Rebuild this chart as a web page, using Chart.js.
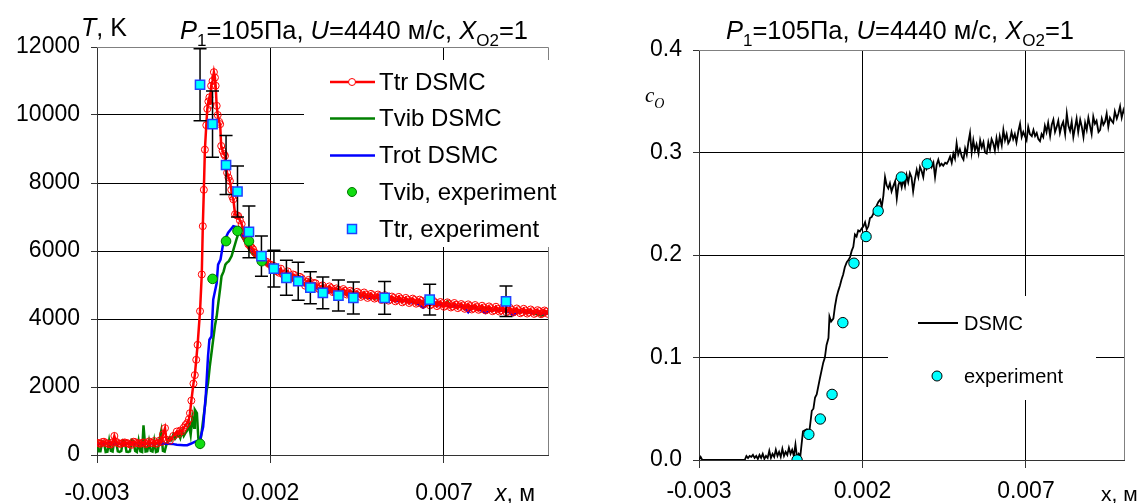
<!DOCTYPE html>
<html><head><meta charset="utf-8">
<script src="https://cdn.jsdelivr.net/npm/chart.js@4.4.1/dist/chart.umd.min.js"></script>
<style>
html,body{margin:0;padding:0;background:#fff;}
#wrap{position:relative;width:1137px;height:503px;overflow:hidden;background:#fff;}
#c1{position:absolute;left:0;top:0;}
#c2{position:absolute;left:575px;top:0;}
</style></head><body>
<div id="wrap"><canvas id="c1" width="575" height="503"></canvas><canvas id="c2" width="562" height="503"></canvas></div>
<script>
// ---------- DATA ----------
const xTickVals = [-0.003, 0.002, 0.007];
const tTickVals = [0, 2000, 4000, 6000, 8000, 10000, 12000];
const coTickVals = [0, 0.1, 0.2, 0.3, 0.4];
const legendLeft = ['Ttr DSMC', 'Tvib DSMC', 'Trot DSMC', 'Tvib, experiment', 'Ttr, experiment'];
const legendRight = ['DSMC', 'experiment'];

const ttrDsmc = [[-0.0030,360],[-0.0029,330],[-0.0028,390],[-0.0027,340],[-0.0026,310],[-0.0025,560],[-0.0024,350],[-0.0023,330],[-0.0022,370],[-0.0021,340],[-0.0020,300],[-0.0019,380],[-0.0018,340],[-0.0017,360],[-0.0016,320],[-0.0015,400],[-0.0014,350],[-0.0013,330],[-0.0012,420],[-0.0011,600],[-0.00104,790],[-0.0010,450],[-0.0009,420],[-0.0008,560],[-0.0007,690],[-0.00065,620],[-0.0006,720],[-0.00055,700],[-0.0005,800],[-0.00045,880],[-0.0004,940],[-0.00035,1050],[-0.00032,1230],[-0.00028,1600],[-0.00022,2100],[-0.00018,2350],[-0.00014,2800],[-0.0001,3240],[-0.00003,4230],[0.00002,5310],[0.00005,6730],[0.00008,7800],[0.00011,8980],[0.00015,9700],[0.00018,10180],[0.00021,10400],[0.00024,10520],[0.00027,10300],[0.00029,10860],[0.00033,11000],[0.00037,11260],[0.0004,11100],[0.00042,10860],[0.00045,10270],[0.00048,10000],[0.00052,9800],[0.00055,9730],[0.00058,9090],[0.00062,8950],[0.00066,8850],[0.00069,8800],[0.00072,8500],[0.00075,8300],[0.00079,8160],[0.00083,8060],[0.00087,7800],[0.0009,7600],[0.00093,7520],[0.00098,7080],[0.00103,7050],[0.00107,7030],[0.00112,6900],[0.00117,6790],[0.00122,6600],[0.00127,6450],[0.00131,6340],[0.00136,6200],[0.00141,6150],[0.00146,6100],[0.0015,6050],[0.00155,5950],[0.0016,5900],[0.00165,5880],[0.0017,5850],[0.00175,5800],[0.0018,5760],[0.00185,5700],[0.0019,5680],[0.00195,5620],[0.002,5600],
[0.0021,5560],[0.0022,5400],[0.0023,5480],[0.0024,5250],[0.0025,5400],[0.0026,5200],[0.0027,5290],[0.0028,5120],[0.0029,5200],[0.0030,4980],[0.0031,5150],[0.0032,4930],[0.0033,5050],[0.0034,4880],[0.0035,4990],[0.0036,4820],[0.0037,4960],[0.0038,4790],[0.0039,4900],[0.0040,4740],[0.0041,4880],[0.0042,4720],[0.0043,4830],[0.0044,4680],[0.0045,4800],[0.0046,4650],[0.0047,4780],[0.0048,4620],[0.0049,4740],[0.0050,4600],[0.0051,4720],[0.0052,4560],[0.0053,4700],[0.0054,4540],[0.0055,4660],[0.0056,4520],[0.0057,4650],[0.0058,4490],[0.0059,4620],[0.0060,4470],[0.0061,4600],[0.0062,4450],[0.0063,4570],[0.0064,4420],[0.0065,4560],[0.0066,4400],[0.0067,4530],[0.0068,4380],[0.0069,4500],[0.0070,4360],[0.0071,4490],[0.0072,4340],[0.0073,4470],[0.0074,4320],[0.0075,4440],[0.0076,4300],[0.0077,4430],[0.0078,4280],[0.0079,4410],[0.0080,4270],[0.0081,4390],[0.0082,4250],[0.0083,4370],[0.0084,4230],[0.0085,4360],[0.0086,4220],[0.0087,4340],[0.0088,4200],[0.0089,4330],[0.0090,4190],[0.0091,4310],[0.0092,4170],[0.0093,4300],[0.0094,4160],[0.0095,4280],[0.0096,4150],[0.0097,4260],[0.0098,4140],[0.0099,4250],[0.0100,4150]];

// intermediate DSMC cells of Ttr (read between the ones above)
const ttrDsmcMid = [[-0.00295,340],[-0.00285,380],[-0.00275,350],[-0.00265,320],[-0.00255,370],[-0.00245,390],[-0.00235,330],[-0.00225,360],[-0.00215,350],[-0.00205,310],[-0.00195,390],[-0.00185,350],[-0.00175,330],[-0.00165,370],[-0.00155,340],[-0.00145,360],[-0.00135,410],[-0.00125,350],[-0.00115,380],
[0.00205,5490],[0.00215,5430],[0.00225,5360],[0.00235,5330],[0.00245,5340],[0.00255,5210],[0.00265,5310],[0.00275,5130],[0.00285,5240],[0.00295,5080],[0.00305,5090],[0.00315,4980],[0.00325,5060],[0.00335,4920],[0.00345,4960],[0.00355,4900],[0.00365,4850],[0.00375,4910],[0.00385,4800],[0.00395,4860],[0.00405,4770],[0.00415,4830],[0.00425,4750],[0.00435,4790],[0.00445,4710],[0.00455,4760],[0.00465,4690],[0.00475,4720],[0.00485,4660],[0.00495,4700],[0.00505,4630],[0.00515,4680],[0.00525,4600],[0.00535,4650],[0.00545,4570],[0.00555,4620],[0.00565,4560],[0.00575,4600],[0.00585,4530],[0.00595,4570],[0.00605,4510],[0.00615,4560],[0.00625,4480],[0.00635,4530],[0.00645,4460],[0.00655,4510],[0.00665,4440],[0.00675,4480],[0.00685,4420],[0.00695,4460],[0.00705,4390],[0.00715,4440],[0.00725,4370],[0.00735,4420],[0.00745,4360],[0.00755,4400],[0.00765,4330],[0.00775,4380],[0.00785,4310],[0.00795,4350],[0.00805,4300],[0.00815,4340],[0.00825,4280],[0.00835,4320],[0.00845,4260],[0.00855,4300],[0.00865,4250],[0.00875,4290],[0.00885,4240],[0.00895,4270],[0.00905,4220],[0.00915,4260],[0.00925,4200],[0.00935,4250],[0.00945,4190],[0.00955,4230],[0.00965,4180],[0.00975,4230],[0.00985,4170],[0.00995,4220]];

const tvibDsmc = [[-0.0030,450],[-0.00295,110],[-0.0029,110],[-0.00285,400],[-0.0028,380],[-0.00275,90],[-0.0027,100],[-0.00265,420],[-0.0026,120],[-0.00255,100],[-0.0025,450],[-0.00245,400],[-0.0024,110],[-0.00235,90],[-0.0023,120],[-0.00225,430],[-0.0022,400],[-0.00215,100],[-0.0021,90],[-0.00205,110],[-0.002,440],[-0.00195,410],[-0.0019,120],[-0.00185,90],[-0.0018,410],[-0.00175,110],[-0.0017,90],[-0.00166,870],[-0.0016,100],[-0.00155,110],[-0.0015,400],[-0.00145,120],[-0.0014,100],[-0.00135,420],[-0.0013,90],[-0.00125,110],[-0.0012,450],[-0.00115,700],[-0.0011,120],[-0.00105,100],[-0.001,300],[-0.00095,480],[-0.0009,520],[-0.00085,450],[-0.0008,600],[-0.00075,480],[-0.0007,550],[-0.00065,620],[-0.0006,500],[-0.00055,700],[-0.0005,560],[-0.00045,650],[-0.0004,720],[-0.00035,900],[-0.0003,600],[-0.00025,1100],[-0.0002,800],[-0.00018,1330],[-0.00012,1230],[-0.00008,500],[-0.00003,330],[0.00002,700],[0.00006,1030],[0.00012,1500],[0.00016,1900],[0.0002,2110],[0.00025,2600],[0.0003,3000],[0.00035,3400],[0.0004,3800],[0.00045,4080],[0.0005,4500],[0.00055,4900],[0.00059,5260],[0.00065,5400],[0.0007,5600],[0.00074,5650],[0.0008,5700],[0.00088,5850],[0.00095,6100],[0.00102,6340],[0.0011,6590],[0.00116,6450],[0.00122,6350],[0.00131,6240],[0.0014,6000],[0.0015,5900],[0.0016,5800],[0.0017,5750],[0.0018,5650],[0.0019,5600],[0.002,5500],
[0.0022,5380],[0.0024,5300],[0.0026,5150],[0.0028,5120],[0.003,5000],[0.0032,4960],[0.0034,4900],[0.0036,4850],[0.0038,4800],[0.004,4790],[0.0042,4720],[0.0044,4750],[0.0046,4660],[0.0048,4690],[0.005,4600],[0.0052,4650],[0.0054,4560],[0.0056,4580],[0.0058,4530],[0.006,4550],[0.0062,4470],[0.0064,4500],[0.0066,4430],[0.0068,4480],[0.007,4400],[0.0071,4520],[0.0072,4380],[0.0074,4370],[0.0076,4340],[0.0078,4380],[0.008,4300],[0.0082,4330],[0.0084,4260],[0.0086,4300],[0.0088,4230],[0.009,4260],[0.0092,4200],[0.0094,4240],[0.0096,4170],[0.0098,4100],[0.01,4180]];

const trotDsmc = [[-0.0030,340],[-0.0028,330],[-0.0026,345],[-0.0024,330],[-0.0022,340],[-0.002,335],[-0.0018,345],[-0.0016,330],[-0.0014,340],[-0.0012,335],[-0.001,330],[-0.0008,320],[-0.0007,300],[-0.0006,295],[-0.0005,290],[-0.0004,290],[-0.0003,330],[-0.0002,380],[-0.0001,420],[-0.00003,440],[0.00006,830],[0.00014,1820],[0.0002,2900],[0.00024,3390],[0.0003,3490],[0.00035,4570],[0.00045,5060],[0.00049,5600],[0.00056,5750],[0.00064,6240],[0.00078,6540],[0.00093,6730],[0.00107,6690],[0.00121,6440],[0.0014,6140],
[0.0016,5880],[0.0018,5720],[0.002,5560],[0.0022,5420],[0.0024,5290],[0.0026,5180],[0.0028,5100],[0.003,5010],[0.0032,4930],[0.0034,4880],[0.0036,4800],[0.0038,4790],[0.004,4730],[0.0042,4740],[0.0044,4680],[0.0046,4690],[0.0048,4620],[0.005,4640],[0.0052,4580],[0.0054,4590],[0.0056,4520],[0.0058,4550],[0.006,4490],[0.0062,4480],[0.0064,4330],[0.0066,4460],[0.0068,4400],[0.007,4420],[0.0072,4370],[0.0074,4380],[0.0076,4330],[0.0077,4200],[0.0078,4340],[0.008,4290],[0.0082,4180],[0.0084,4270],[0.0086,4240],[0.0088,4250],[0.009,4120],[0.0092,4230],[0.0094,4180],[0.0096,4200],[0.0098,4150],[0.01,4170]];

const tvibExp = [[-0.00003,330],[0.00033,5180],[0.00072,6290],[0.00105,6590],[0.00138,6290],[0.00175,5700]];

const ttrExpX = [-0.00003, 0.00033, 0.00072, 0.00105, 0.00138, 0.00174, 0.0021, 0.00246, 0.0028, 0.00315, 0.00351, 0.00396, 0.00439, 0.00529, 0.00659, 0.00879];
const ttrExpY = [10890, 9730, 8530, 7750, 6560, 5850, 5480, 5210, 5110, 4920, 4770, 4690, 4620, 4620, 4570, 4520];
const ttrExpErr = [1060, 975, 870, 750, 760, 590, 540, 515, 560, 470, 465, 455, 470, 480, 450, 450];

const coDsmc = [[-0.0030,0],[-0.00295,0.003],[-0.0029,0],[-0.0016,0],[-0.00155,0.004],[-0.0015,0.002],[-0.00145,0.004],[-0.0014,0.003],[-0.00135,0.005],[-0.0013,0.002],[-0.00125,0.004],[-0.0012,0.001],[-0.00115,0.005],[-0.0011,0.002],[-0.00105,0.006],[-0.001,0.001],[-0.00095,0.004],[-0.0009,0.002],[-0.00085,0.009],[-0.0008,0.002],[-0.00075,0.006],[-0.0007,0.003],[-0.00065,0.010],[-0.0006,0.004],[-0.00055,0.008],[-0.0005,0.003],[-0.00045,0.011],[-0.0004,0.004],[-0.00035,0.008],[-0.0003,0.005],[-0.00025,0.012],[-0.0002,0.006],[-0.00015,0.010],[-0.0001,0.004],[-0.00005,0.015],[0.0,0.002],[0.00005,0.006],[0.0001,0.004],[0.00018,0.028],[0.0003,0.030],[0.00038,0.029],[0.00045,0.048],[0.0005,0.050],[0.00055,0.061],[0.0006,0.064],[0.0007,0.080],[0.0008,0.095],[0.00085,0.100],[0.0009,0.112],[0.00096,0.119],[0.00099,0.140],[0.00104,0.135],[0.00111,0.138],[0.00116,0.150],[0.00121,0.159],[0.00126,0.165],[0.00131,0.170],[0.00136,0.176],[0.00141,0.181],[0.00146,0.188],[0.00152,0.193],[0.00157,0.195],[0.00162,0.198],[0.00167,0.204],[0.00172,0.208],[0.00177,0.220],[0.00182,0.218],[0.00187,0.224],[0.00192,0.223],[0.00198,0.226],[0.00203,0.228],[0.00208,0.232],[0.00213,0.225],[0.00218,0.228],[0.00223,0.236],[0.00228,0.237],[0.00233,0.240],[0.00238,0.245],[0.00243,0.248],[0.00249,0.252],[0.00254,0.254],[0.00259,0.247],[0.00264,0.258],[0.00269,0.276],[0.00274,0.268],[0.00279,0.265],[0.00284,0.270],[0.00289,0.262],[0.00294,0.267],[0.003,0.272],[0.00305,0.255],[0.0031,0.268],[0.00315,0.273],[0.0032,0.266],[0.00325,0.274],[0.0033,0.267],[0.00335,0.278],[0.0034,0.271],[0.00345,0.280],[0.0035,0.276],[0.00355,0.262],[0.0036,0.273],[0.00366,0.283],[0.00371,0.276],[0.00376,0.286],[0.00381,0.282],[0.00386,0.276],[0.00391,0.288],[0.00396,0.284],[0.00402,0.290],[0.00407,0.293],[0.00412,0.286],[0.00417,0.290],[0.00422,0.276],[0.00427,0.288],[0.00432,0.293],[0.00437,0.287],[0.00442,0.289],[0.00447,0.287],[0.00453,0.290],[0.00458,0.289],[0.00463,0.292],[0.00468,0.296],[0.00473,0.290],[0.00478,0.299],[0.00483,0.294],[0.00488,0.309],[0.00493,0.298],[0.00498,0.303],[0.00504,0.296],[0.00509,0.293],[0.00514,0.304],[0.00519,0.298],[0.00524,0.310],[0.00529,0.319],[0.00534,0.300],[0.00539,0.312],[0.00544,0.302],[0.00549,0.308],[0.00555,0.299],[0.0056,0.312],[0.00565,0.305],[0.0057,0.310],[0.00575,0.300],[0.0058,0.299],[0.00585,0.310],[0.0059,0.303],[0.00595,0.313],[0.006,0.309],[0.00605,0.302],[0.0061,0.314],[0.00615,0.305],[0.0062,0.316],[0.00626,0.307],[0.00631,0.322],[0.00636,0.312],[0.00641,0.318],[0.00646,0.309],[0.00651,0.312],[0.00656,0.320],[0.00661,0.313],[0.00666,0.318],[0.00671,0.310],[0.00677,0.321],[0.00682,0.328],[0.00687,0.315],[0.00692,0.320],[0.00697,0.316],[0.00702,0.312],[0.00707,0.325],[0.00712,0.318],[0.00718,0.316],[0.00723,0.322],[0.00728,0.316],[0.00733,0.319],[0.00738,0.313],[0.00743,0.311],[0.00748,0.318],[0.00753,0.315],[0.00758,0.326],[0.00763,0.320],[0.00768,0.329],[0.00774,0.316],[0.00779,0.327],[0.00784,0.332],[0.00789,0.320],[0.00794,0.325],[0.00799,0.331],[0.00804,0.319],[0.00809,0.326],[0.00814,0.330],[0.0082,0.318],[0.00825,0.338],[0.0083,0.326],[0.00835,0.321],[0.0084,0.330],[0.00845,0.315],[0.0085,0.324],[0.00855,0.333],[0.0086,0.320],[0.00866,0.332],[0.00871,0.325],[0.00876,0.315],[0.00881,0.329],[0.00886,0.322],[0.00891,0.334],[0.00896,0.326],[0.00901,0.318],[0.00906,0.335],[0.00911,0.328],[0.00916,0.331],[0.00922,0.320],[0.00927,0.322],[0.00932,0.333],[0.00937,0.327],[0.00942,0.330],[0.00947,0.338],[0.00952,0.325],[0.00957,0.334],[0.00962,0.331],[0.00967,0.329],[0.00972,0.340],[0.00978,0.333],[0.00983,0.338],[0.00988,0.345],[0.00993,0.334],[0.00998,0.341],[0.0100,0.338],[0.01005,0.348]];

const coExp = [[0.0,0.0],[0.00036,0.025],[0.00071,0.040],[0.00107,0.064],[0.0014,0.134],[0.00174,0.192],[0.00211,0.218],[0.00248,0.243],[0.00319,0.276],[0.00398,0.289]];

// ---------- HELPERS ----------
const FONT = '"Liberation Sans", Arial, sans-serif';
const SERIF = '"Liberation Serif", "Times New Roman", serif';
Chart.defaults.font.family = FONT;
Chart.defaults.color = '#000';
const pts = a => a.map(p => ({x: p[0], y: p[1]}));
const ttrAll = ttrDsmc.concat(ttrDsmcMid).sort((a, b) => a[0] - b[0]);

function richText(ctx, segs, x, y, size, family) {
  let cx = x;
  ctx.textAlign = 'left'; ctx.textBaseline = 'alphabetic'; ctx.fillStyle = '#000';
  for (const s of segs) {
    const sz = s.sub ? Math.round(size * 0.68) : size;
    ctx.font = (s.it ? 'italic ' : '') + sz + 'px ' + (family || FONT);
    ctx.fillText(s.t, cx, y + (s.sub ? size * 0.28 : 0));
    cx += ctx.measureText(s.t).width;
  }
}
const titleSegs = [{t:'P',it:1},{t:'1',sub:1},{t:'=105Па, '},{t:'U',it:1},{t:'=4440 м/с, '},{t:'X',it:1},{t:'O2',sub:1},{t:'=1'}];

function frameLines(chart) {
  const {ctx, chartArea: a} = chart;
  ctx.save();
  ctx.strokeStyle = '#808080'; ctx.lineWidth = 1;
  const t = Math.round(a.top) + 0.5, r = Math.round(a.right) + 0.5;
  ctx.beginPath(); ctx.moveTo(a.left, t); ctx.lineTo(r, t); ctx.lineTo(r, a.bottom); ctx.stroke();
  ctx.restore();
}

function makeScales(box, W, H, yMin, yMax, yTicks, yFmt, xPad) {
  return {
    x: {
      type: 'linear', min: -0.003, max: 0.010,
      afterFit(s) { s.height = H - box.bottom; },
      afterBuildTicks(s) { s.ticks = xTickVals.map(v => ({value: v})); },
      ticks: { callback: v => v.toFixed(3), font: {size: 23}, padding: xPad, maxRotation: 0, autoSkip: false, color: '#000' },
      grid: { color: c => (c.tick && Math.abs(c.tick.value + 0.003) < 1e-9) ? 'rgba(0,0,0,0)' : '#000', tickColor: '#333', lineWidth: 1, tickLength: 8 },
      border: { color: '#333', width: 1 }
    },
    y: {
      min: yMin, max: yMax,
      afterFit(s) { s.width = box.left; },
      afterBuildTicks(s) { s.ticks = yTicks.map(v => ({value: v})); },
      ticks: { callback: yFmt, font: {size: 23}, padding: 11, color: '#000' },
      grid: { color: c => (c.tick && c.tick.value === yMax) ? '#808080' : (c.tick && c.tick.value === yMin ? 'rgba(0,0,0,0)' : '#000'), tickColor: '#333', lineWidth: 1, tickLength: 6 },
      border: { color: '#333', width: 1 }
    }
  };
}

// ---------- LEFT CHART ----------
const W1 = 575, H1 = 503;
const box1 = {left: 97, right: 548, top: 47, bottom: 455};

const leftPlugin = {
  id: 'leftDecor',
  beforeDatasetsDraw(chart) { frameLines(chart); },
  beforeDatasetDraw(chart, args) {
    if (chart.data.datasets[args.index].label !== 'Tvib, experiment') return;
    const {ctx, scales: {x, y}} = chart;
    ctx.save();
    ctx.strokeStyle = '#000'; ctx.lineWidth = 1.5;
    ttrExpX.forEach((xv, i) => {
      const px = x.getPixelForValue(xv);
      const top = y.getPixelForValue(ttrExpY[i] + ttrExpErr[i]);
      const bot = y.getPixelForValue(ttrExpY[i] - ttrExpErr[i]);
      ctx.beginPath();
      ctx.moveTo(px, top); ctx.lineTo(px, bot);
      ctx.moveTo(px - 6.5, top); ctx.lineTo(px + 6.5, top);
      ctx.moveTo(px - 6.5, bot); ctx.lineTo(px + 6.5, bot);
      ctx.stroke();
    });
    ctx.restore();
  },
  afterDraw(chart) {
    const ctx = chart.ctx;
    ctx.save();
    // legend
    ctx.fillStyle = '#fff';
    ctx.fillRect(304, 60, 271, 187);
    const rows = [82, 118.5, 155.5, 192, 229];
    const lx0 = 330, lx1 = 375, mx = 352;
    ctx.lineWidth = 2.5;
    [['#ff0000'], ['#008000'], ['#0000ff']].forEach((c, i) => {
      ctx.strokeStyle = c[0];
      ctx.beginPath(); ctx.moveTo(lx0, rows[i]); ctx.lineTo(lx1, rows[i]); ctx.stroke();
    });
    ctx.lineWidth = 1; ctx.strokeStyle = '#ff0000';
    ctx.beginPath(); ctx.arc(mx, rows[0], 3.5, 0, Math.PI * 2); ctx.fillStyle = '#fff'; ctx.fill(); ctx.stroke();
    ctx.fillStyle = '#11dd11'; ctx.strokeStyle = '#007700';
    ctx.beginPath(); ctx.arc(mx, rows[3], 4.5, 0, Math.PI * 2); ctx.fill(); ctx.stroke();
    ctx.fillStyle = '#00ffff'; ctx.strokeStyle = '#2040ff'; ctx.lineWidth = 1.5;
    ctx.fillRect(mx - 4.5, rows[4] - 4.5, 9, 9); ctx.strokeRect(mx - 4.5, rows[4] - 4.5, 9, 9);
    ctx.fillStyle = '#000'; ctx.font = '24px ' + FONT; ctx.textAlign = 'left'; ctx.textBaseline = 'middle';
    legendLeft.forEach((t, i) => ctx.fillText(t, 379, rows[i] + 1));
    // texts
    richText(ctx, titleSegs, 180, 39, 25.5);
    richText(ctx, [{t:'T',it:1},{t:', K'}], 81, 36, 25);
    richText(ctx, [{t:'x',it:1},{t:', м'}], 495, 501, 23);
    ctx.restore();
  }
};

new Chart(document.getElementById('c1'), {
  type: 'scatter',
  data: {
    datasets: [
      { label: 'Tvib DSMC', data: pts(tvibDsmc), showLine: true, borderColor: '#008000', borderWidth: 2.5, pointRadius: 0, order: 5 },
      { label: 'Trot DSMC', data: pts(trotDsmc), showLine: true, borderColor: '#0000ff', borderWidth: 2.5, pointRadius: 0, order: 4 },
      { label: 'Ttr DSMC', data: pts(ttrAll), showLine: true, borderColor: '#ff0000', borderWidth: 2.5, pointRadius: 3.5, pointBorderWidth: 1, pointBorderColor: '#ff0000', pointBackgroundColor: 'rgba(255,255,255,0)', order: 3 },
      { label: 'Tvib, experiment', data: pts(tvibExp), pointRadius: 4.8, pointBackgroundColor: '#11dd11', pointBorderColor: '#007700', pointBorderWidth: 1, order: 2 },
      { label: 'Ttr, experiment', data: ttrExpX.map((v, i) => ({x: v, y: ttrExpY[i]})), pointStyle: 'rect', pointRadius: 6.5, pointBackgroundColor: '#00ffff', pointBorderColor: '#2040ff', pointBorderWidth: 1.5, order: 1 }
    ]
  },
  options: {
    responsive: false, animation: false, events: [],
    layout: { padding: { left: 0, top: box1.top, right: W1 - box1.right, bottom: 0 } },
    plugins: { legend: { display: false }, tooltip: { enabled: false } },
    scales: makeScales(box1, W1, H1, 0, 12000, tTickVals, v => String(v), 17)
  },
  plugins: [leftPlugin]
});

// ---------- RIGHT CHART ----------
const W2 = 562, H2 = 503;
const box2 = {left: 124, right: 549, top: 50, bottom: 460};

const rightPlugin = {
  id: 'rightDecor',
  beforeDatasetsDraw(chart) { frameLines(chart); },
  afterDraw(chart) {
    const ctx = chart.ctx;
    ctx.save();
    ctx.fillStyle = '#fff';
    ctx.fillRect(313, 296, 208, 104);
    ctx.strokeStyle = '#000'; ctx.lineWidth = 2;
    ctx.beginPath(); ctx.moveTo(343, 323); ctx.lineTo(383, 323); ctx.stroke();
    ctx.fillStyle = '#00ffff'; ctx.strokeStyle = '#000'; ctx.lineWidth = 1;
    ctx.beginPath(); ctx.arc(362, 376, 5, 0, Math.PI * 2); ctx.fill(); ctx.stroke();
    ctx.fillStyle = '#000'; ctx.font = '20px ' + FONT; ctx.textAlign = 'left'; ctx.textBaseline = 'middle';
    ctx.fillText(legendRight[0], 389, 324);
    ctx.fillText(legendRight[1], 389, 377);
    richText(ctx, titleSegs, 151, 39, 25.5);
    richText(ctx, [{t:'c',it:1},{t:'O',it:1,sub:1}], 70, 102, 21, SERIF);
    ctx.font = '21px ' + FONT; ctx.textBaseline = 'alphabetic'; ctx.fillStyle = '#000';
    ctx.fillText('x, м', 526, 501);
    ctx.restore();
  }
};

new Chart(document.getElementById('c2'), {
  type: 'scatter',
  data: {
    datasets: [
      { label: 'DSMC', data: pts(coDsmc), showLine: true, borderColor: '#000', borderWidth: 1.8, pointRadius: 0, order: 2 },
      { label: 'experiment', data: pts(coExp), pointRadius: 5.2, pointBackgroundColor: '#00ffff', pointBorderColor: '#000', pointBorderWidth: 1, order: 1 }
    ]
  },
  options: {
    responsive: false, animation: false, events: [],
    layout: { padding: { left: 0, top: box2.top, right: W2 - box2.right, bottom: 0 } },
    plugins: { legend: { display: false }, tooltip: { enabled: false } },
    scales: makeScales(box2, W2, H2, 0, 0.4, coTickVals, v => v.toFixed(1), 10)
  },
  plugins: [rightPlugin]
});
</script>
</body></html>
